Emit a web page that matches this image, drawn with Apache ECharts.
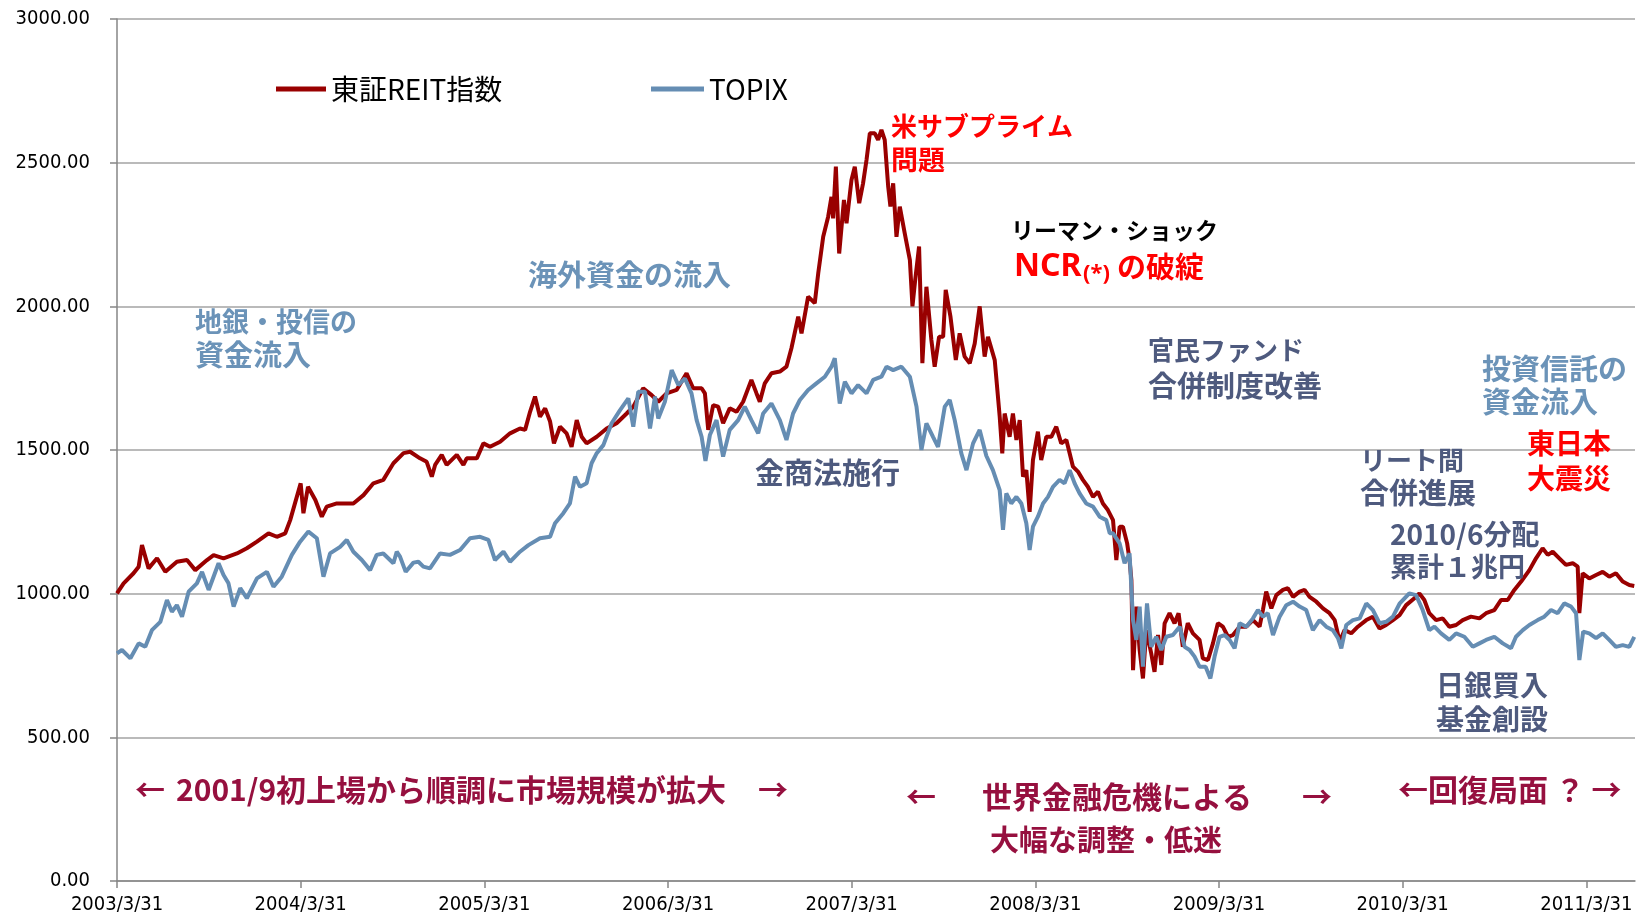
<!DOCTYPE html>
<html>
<head>
<meta charset="utf-8">
<script src="https://cdn.jsdelivr.net/npm/echarts@6/dist/echarts.min.js"></script>
<style>
html, body { margin: 0; padding: 0; background: #fff; }
#chart { width: 1648px; height: 921px; }
</style>
</head>
<body>
<div id="chart"></div>
<script>
// x = years after 2003/3/31, y = index level
var tickLabels = ['2003/3/31', '2004/3/31', '2005/3/31', '2006/3/31', '2007/3/31',
  '2008/3/31', '2009/3/31', '2010/3/31', '2011/3/31'];
var yTicks = [0, 500, 1000, 1500, 2000, 2500, 3000];

var reitPoints = [
  [0, 1001], [0.036, 1036], [0.09, 1071], [0.118, 1094], [0.136, 1169], [0.172, 1088], [0.218, 1123],
  [0.263, 1076], [0.326, 1111], [0.381, 1117], [0.426, 1082], [0.49, 1117], [0.526, 1134], [0.58, 1123],
  [0.653, 1140], [0.707, 1158], [0.762, 1181], [0.825, 1210], [0.87, 1198], [0.916, 1210], [0.943, 1256],
  [0.979, 1337], [1.0, 1384], [1.015, 1280], [1.04, 1372], [1.08, 1326], [1.115, 1268], [1.142, 1303],
  [1.197, 1314], [1.287, 1314], [1.342, 1343], [1.396, 1384], [1.45, 1396], [1.505, 1454], [1.56, 1489],
  [1.596, 1494], [1.65, 1471], [1.686, 1459], [1.714, 1407], [1.732, 1448], [1.768, 1483], [1.795, 1448],
  [1.85, 1483], [1.886, 1448], [1.904, 1471], [1.959, 1471], [1.995, 1523], [2.031, 1511], [2.086, 1529],
  [2.14, 1558], [2.194, 1575], [2.222, 1570], [2.249, 1633], [2.276, 1686], [2.303, 1616], [2.331, 1645],
  [2.358, 1599], [2.379, 1523], [2.412, 1581], [2.448, 1558], [2.475, 1511], [2.503, 1604], [2.53, 1546],
  [2.557, 1523], [2.612, 1546], [2.666, 1575], [2.72, 1593], [2.775, 1627], [2.811, 1651], [2.865, 1715],
  [2.911, 1691], [2.947, 1668], [2.992, 1697], [3.047, 1709], [3.101, 1767], [3.137, 1715], [3.183, 1715],
  [3.201, 1697], [3.219, 1570], [3.246, 1656], [3.273, 1651], [3.3, 1593], [3.336, 1645], [3.373, 1633],
  [3.409, 1668], [3.454, 1744], [3.482, 1697], [3.5, 1668], [3.527, 1732], [3.563, 1767], [3.609, 1773],
  [3.645, 1790], [3.672, 1854], [3.709, 1964], [3.727, 1906], [3.763, 2034], [3.799, 2011], [3.818, 2115],
  [3.845, 2242], [3.872, 2312], [3.89, 2381], [3.899, 2306], [3.914, 2486], [3.932, 2184], [3.958, 2370],
  [3.972, 2289], [3.999, 2440], [4.017, 2486], [4.041, 2359], [4.062, 2428], [4.081, 2510], [4.099, 2602],
  [4.126, 2602], [4.144, 2579], [4.162, 2614], [4.18, 2579], [4.199, 2416], [4.211, 2347], [4.226, 2428],
  [4.244, 2242], [4.262, 2347], [4.289, 2254], [4.317, 2161], [4.331, 2000], [4.344, 2080], [4.367, 2208],
  [4.385, 1802], [4.407, 2068], [4.434, 1883], [4.452, 1790], [4.476, 1894], [4.498, 1894], [4.512, 2057],
  [4.538, 1964], [4.567, 1813], [4.588, 1906], [4.615, 1825], [4.643, 1802], [4.67, 1871], [4.697, 2000],
  [4.724, 1825], [4.742, 1894], [4.779, 1813], [4.806, 1616], [4.82, 1488], [4.833, 1627], [4.86, 1546],
  [4.878, 1627], [4.897, 1535], [4.915, 1604], [4.933, 1407], [4.951, 1430], [4.969, 1285], [4.987, 1465],
  [5.014, 1564], [5.032, 1465], [5.06, 1546], [5.087, 1546], [5.114, 1581], [5.141, 1523], [5.169, 1535],
  [5.205, 1442], [5.232, 1425], [5.259, 1396], [5.286, 1372], [5.314, 1337], [5.341, 1355], [5.368, 1314],
  [5.395, 1291], [5.423, 1256], [5.441, 1117], [5.459, 1233], [5.477, 1233], [5.5, 1175], [5.513, 1117],
  [5.523, 1048], [5.532, 734], [5.55, 955], [5.568, 804], [5.586, 705], [5.604, 873], [5.631, 792],
  [5.649, 728], [5.668, 856], [5.686, 752], [5.704, 897], [5.731, 932], [5.758, 897], [5.78, 932],
  [5.803, 815], [5.83, 897], [5.858, 862], [5.894, 839], [5.912, 775], [5.94, 769], [5.967, 827],
  [5.994, 897], [6.021, 885], [6.049, 850], [6.076, 856], [6.112, 885], [6.149, 885], [6.185, 908],
  [6.221, 885], [6.239, 943], [6.257, 1007], [6.285, 949], [6.312, 995], [6.348, 1013], [6.375, 1019],
  [6.403, 989], [6.439, 1007], [6.466, 1013], [6.493, 989], [6.53, 972], [6.566, 949], [6.602, 932],
  [6.63, 908], [6.657, 833], [6.684, 873], [6.72, 862], [6.756, 885], [6.802, 908], [6.838, 920],
  [6.874, 879], [6.91, 891], [6.947, 908], [6.983, 925], [7.019, 960], [7.064, 984], [7.091, 1001],
  [7.118, 978], [7.145, 932], [7.182, 908], [7.218, 914], [7.254, 885], [7.291, 891], [7.327, 908],
  [7.372, 920], [7.418, 914], [7.454, 932], [7.499, 943], [7.536, 978], [7.572, 978], [7.608, 1013],
  [7.645, 1042], [7.69, 1082], [7.726, 1123], [7.762, 1158], [7.79, 1135], [7.817, 1146], [7.853, 1123],
  [7.889, 1100], [7.926, 1106], [7.953, 1094], [7.962, 932], [7.98, 1071], [8.016, 1053], [8.053, 1065],
  [8.089, 1076], [8.125, 1059], [8.161, 1071], [8.198, 1042], [8.234, 1030], [8.261, 1027]
];

var topixPoints = [
  [0, 792], [0.027, 804], [0.073, 775], [0.118, 827], [0.154, 815], [0.19, 873], [0.236, 902],
  [0.272, 978], [0.299, 937], [0.326, 960], [0.354, 920], [0.39, 1007], [0.435, 1036], [0.463, 1076],
  [0.499, 1013], [0.553, 1106], [0.58, 1065], [0.607, 1036], [0.635, 955], [0.671, 1019], [0.707, 984],
  [0.762, 1053], [0.816, 1076], [0.852, 1024], [0.897, 1059], [0.952, 1135], [0.997, 1181], [1.042, 1216],
  [1.088, 1193], [1.124, 1059], [1.16, 1140], [1.215, 1163], [1.251, 1187], [1.287, 1146], [1.333, 1117],
  [1.378, 1082], [1.414, 1135], [1.45, 1140], [1.505, 1106], [1.523, 1146], [1.541, 1129], [1.572, 1076],
  [1.614, 1108], [1.641, 1111], [1.668, 1094], [1.704, 1088], [1.759, 1140], [1.813, 1135], [1.868, 1152],
  [1.922, 1193], [1.977, 1198], [2.022, 1187], [2.058, 1117], [2.104, 1146], [2.14, 1111], [2.194, 1146],
  [2.24, 1169], [2.303, 1193], [2.358, 1198], [2.385, 1245], [2.43, 1280], [2.466, 1314], [2.494, 1407],
  [2.521, 1372], [2.557, 1384], [2.584, 1454], [2.612, 1489], [2.648, 1517], [2.693, 1593], [2.739, 1639],
  [2.784, 1680], [2.811, 1581], [2.838, 1703], [2.875, 1703], [2.902, 1575], [2.929, 1686], [2.947, 1610],
  [2.983, 1668], [3.02, 1778], [3.056, 1726], [3.092, 1749], [3.128, 1697], [3.156, 1604], [3.183, 1546],
  [3.204, 1462], [3.228, 1552], [3.264, 1604], [3.3, 1477], [3.336, 1570], [3.382, 1604], [3.418, 1651],
  [3.454, 1604], [3.491, 1558], [3.518, 1627], [3.563, 1662], [3.609, 1604], [3.645, 1535], [3.681, 1627],
  [3.718, 1674], [3.763, 1709], [3.808, 1732], [3.854, 1755], [3.89, 1790], [3.908, 1819], [3.935, 1662],
  [3.963, 1738], [3.999, 1697], [4.035, 1726], [4.081, 1697], [4.117, 1744], [4.162, 1755], [4.19, 1790],
  [4.226, 1778], [4.271, 1790], [4.317, 1755], [4.353, 1651], [4.38, 1500], [4.407, 1593], [4.443, 1546],
  [4.47, 1511], [4.507, 1651], [4.534, 1674], [4.561, 1604], [4.597, 1488], [4.625, 1430], [4.661, 1523],
  [4.697, 1570], [4.733, 1480], [4.769, 1430], [4.806, 1360], [4.824, 1222], [4.842, 1349], [4.869, 1314],
  [4.897, 1337], [4.924, 1314], [4.951, 1245], [4.969, 1152], [4.987, 1233], [5.014, 1268], [5.042, 1314],
  [5.069, 1337], [5.096, 1372], [5.132, 1396], [5.159, 1384], [5.187, 1430], [5.214, 1384], [5.241, 1349],
  [5.277, 1314], [5.314, 1303], [5.35, 1268], [5.386, 1256], [5.405, 1210], [5.423, 1210], [5.459, 1175],
  [5.486, 1106], [5.513, 1140], [5.532, 908], [5.55, 839], [5.568, 955], [5.586, 746], [5.608, 966],
  [5.631, 815], [5.658, 850], [5.686, 804], [5.713, 850], [5.749, 856], [5.786, 885], [5.813, 815],
  [5.84, 804], [5.867, 781], [5.894, 746], [5.927, 746], [5.953, 705], [5.976, 781], [6.003, 850],
  [6.03, 856], [6.058, 839], [6.085, 810], [6.112, 897], [6.149, 885], [6.185, 914], [6.212, 943],
  [6.239, 920], [6.266, 932], [6.294, 856], [6.33, 920], [6.366, 960], [6.403, 972], [6.439, 955],
  [6.475, 943], [6.511, 873], [6.548, 908], [6.584, 885], [6.62, 873], [6.648, 845], [6.666, 810],
  [6.693, 891], [6.729, 908], [6.766, 914], [6.802, 966], [6.838, 943], [6.874, 897], [6.91, 902],
  [6.947, 920], [6.983, 965], [7.036, 1001], [7.073, 995], [7.109, 943], [7.145, 873], [7.173, 885],
  [7.209, 862], [7.254, 839], [7.291, 862], [7.336, 850], [7.382, 815], [7.418, 827], [7.454, 839],
  [7.499, 850], [7.545, 827], [7.59, 810], [7.617, 850], [7.654, 873], [7.69, 891], [7.735, 908],
  [7.771, 920], [7.808, 943], [7.844, 932], [7.88, 966], [7.917, 955], [7.944, 932], [7.962, 769],
  [7.983, 868], [8.016, 862], [8.053, 845], [8.089, 862], [8.125, 839], [8.161, 815], [8.198, 821],
  [8.234, 815], [8.261, 850]
];

var cjk = "'Noto Sans CJK JP', sans-serif";
var narrow = "'Liberation Sans Narrow', 'DejaVu Sans Condensed', sans-serif";
var slate = '#4e5a7e', steel = '#6b93b8', maroon = '#96103f', red = '#ff0000';

// annotation text: [text, x, y(center), color, fontSize]
var notes = [
  ['米サブプライム', 891, 126, red, 26],
  ['問題', 891, 160, red, 27],
  ['リーマン・ショック', 1011, 230, '#000', 23],
  ['海外資金の流入', 528, 275, steel, 29],
  ['地銀・投信の', 195, 322, steel, 27],
  ['資金流入', 195, 355, steel, 29],
  ['金商法施行', 755, 473, slate, 29],
  ['官民ファンド', 1148, 350, slate, 26],
  ['合併制度改善', 1148, 386, slate, 29],
  ['投資信託の', 1482, 369, steel, 29],
  ['資金流入', 1482, 402, steel, 29],
  ['東日本', 1527, 443, red, 28],
  ['大震災', 1527, 478, red, 28],
  ['リート間', 1360, 460, slate, 26],
  ['合併進展', 1360, 493, slate, 29],
  ['2010/6分配', 1390, 534, slate, 28],
  ['累計１兆円', 1390, 567, slate, 27],
  ['日銀買入', 1436, 685, slate, 28],
  ['基金創設', 1436, 719, slate, 28],
  ['←', 135, 790, maroon, 30],
  ['2001/9初上場から順調に市場規模が拡大', 176, 790, maroon, 30],
  ['→', 758, 790, maroon, 30],
  ['←', 906, 797, maroon, 30],
  ['世界金融危機による', 982, 797, maroon, 30],
  ['→', 1302, 797, maroon, 30],
  ['大幅な調整・低迷', 990, 840, maroon, 29],
  ['←回復局面 ？ →', 1398, 790, maroon, 30]
];

var graphics = notes.map(function (n) {
  return {
    type: 'text', x: n[1], y: n[2], z: 100,
    style: {
      text: n[0], fill: n[3], verticalAlign: 'middle',
      font: 'bold ' + n[4] + 'px ' + cjk
    }
  };
});
// NCR(*)の破綻
graphics.push(
  { type: 'text', x: 1014, y: 267, z: 100, style: { text: 'NCR', fill: red, verticalAlign: 'middle', font: 'bold 32px "Noto Sans", sans-serif' } },
  { type: 'text', x: 1083, y: 274, z: 100, style: { text: '(*)', fill: red, verticalAlign: 'middle', font: 'bold 22px "Noto Sans", sans-serif' } },
  { type: 'text', x: 1117, y: 267, z: 100, style: { text: 'の破綻', fill: red, verticalAlign: 'middle', font: 'bold 29px ' + cjk } }
);

var chart = echarts.init(document.getElementById('chart'));
chart.setOption({
  animation: false,
  backgroundColor: '#fff',
  grid: { left: 117, right: 13, top: 19, bottom: 40 },
  legend: [{
    data: ['東証REIT指数'], left: 271, top: 70,
    icon: 'rect', itemWidth: 50, itemHeight: 5, itemGap: 0,
    textStyle: { fontFamily: cjk, fontSize: 28, color: '#000' }
  }, {
    data: ['TOPIX'], left: 646, top: 70,
    icon: 'rect', itemWidth: 53, itemHeight: 5, itemGap: 0,
    textStyle: { fontFamily: cjk, fontSize: 28, color: '#000' }
  }],
  xAxis: {
    type: 'value', min: 0, max: 8.265,
    axisLine: { lineStyle: { color: '#868686', width: 1.5 } },
    axisTick: { length: 7, lineStyle: { color: '#868686', width: 1.5 }, customValues: [0, 1, 2, 3, 4, 5, 6, 7, 8] },
    axisLabel: {
      customValues: [0, 1, 2, 3, 4, 5, 6, 7, 8],
      margin: 14, fontFamily: narrow, fontSize: 20, color: '#000',
      formatter: function (v) { return tickLabels[Math.round(v)] || ''; }
    },
    splitLine: { show: false }
  },
  yAxis: {
    type: 'value', min: yTicks[0], max: yTicks[yTicks.length - 1], interval: 500,
    axisLine: { show: true, lineStyle: { color: '#868686', width: 1.5 } },
    axisTick: { show: true, length: 7, lineStyle: { color: '#868686', width: 1.5 } },
    axisLabel: {
      margin: 27, fontFamily: narrow, fontSize: 20, color: '#000',
      formatter: function (v) { return v.toFixed(2); }
    },
    splitLine: { lineStyle: { color: '#a3a3a3', width: 1.5 } }
  },
  series: [{
    name: '東証REIT指数', type: 'line', data: reitPoints,
    showSymbol: false, symbol: 'none', z: 2,
    lineStyle: { color: '#990000', width: 4 },
    itemStyle: { color: '#990000' },
    emphasis: { disabled: true }
  }, {
    name: 'TOPIX', type: 'line', data: topixPoints,
    showSymbol: false, symbol: 'none', z: 3,
    lineStyle: { color: '#658db3', width: 4 },
    itemStyle: { color: '#658db3' },
    emphasis: { disabled: true }
  }],
  graphic: graphics
});
</script>
</body>
</html>
